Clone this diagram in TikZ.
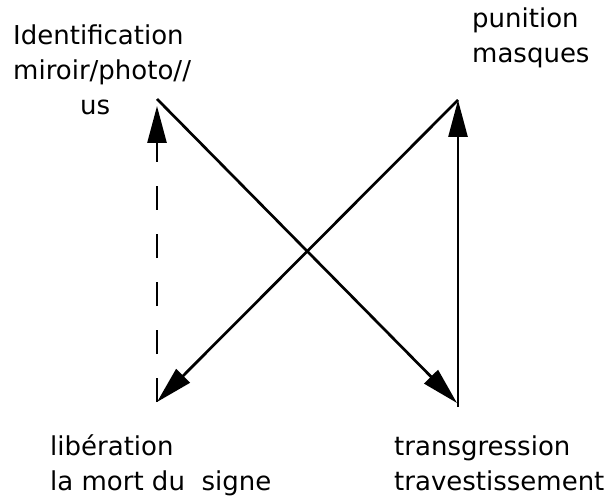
\documentclass[tikz,border=0pt]{standalone}
\usepackage{fontspec}
\setmainfont{DejaVu Sans}
\usetikzlibrary{arrows.meta}
\begin{document}
\begin{tikzpicture}[x=1pt,y=-1pt,
  lbl/.style={anchor=base west,inner sep=0pt,align=left,
    font=\fontsize{26}{35}\selectfont},
  conn/.style={line width=2.7pt,-{Triangle[length=37pt,width=19pt]}}]
\useasboundingbox (0,0) rectangle (605,497);
\coordinate (tl) at (157,99);
\coordinate (tr) at (458,100);
\coordinate (bl) at (157,402);
\coordinate (br) at (457,403);
\coordinate (rb) at (458,407);
\node[lbl] (ident) at (13,115) {Identification\\miroir/photo//\\\hspace*{67pt}us};
\node[lbl] (pun) at (472,63) {punition\\masques};
\node[lbl] (lib) at (50,490) {libération\\la mort du\ \ signe};
\node[lbl] (trans) at (394,490) {transgression\\travestissement};
\draw[conn] (tl) -- (br);
\draw[conn] (tr) -- (bl);
\draw[conn,dash pattern=on 24pt off 24pt,shorten >=7pt] (bl) -- (tl);
\draw[conn] (rb) -- (tr);
\end{tikzpicture}
\end{document}
